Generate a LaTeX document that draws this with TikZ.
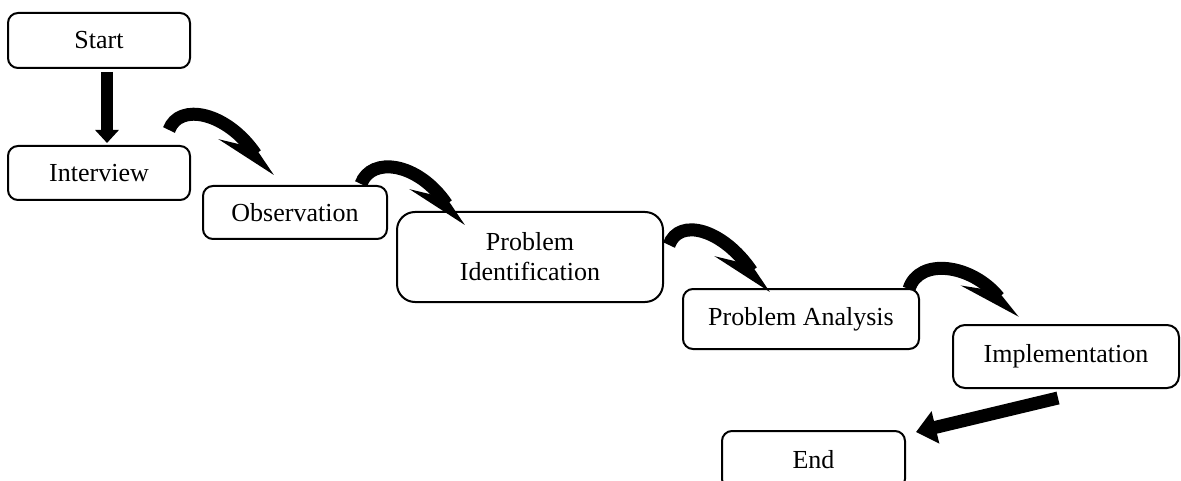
\documentclass[tikz,border=0pt]{standalone}
\usepackage{fontspec}
\setmainfont{Liberation Serif}
\usetikzlibrary{arrows.meta,calc}
\begin{document}
\begin{tikzpicture}[x=1pt,y=-1pt,
  box/.style={draw, line width=2pt, rounded corners=10pt, align=center,
    font=\fontsize{26}{30}\selectfont, inner sep=0pt},
  sarrow/.style={line width=12pt, -{Triangle[length=13pt,width=23pt]}},
  farrow/.style={line width=13pt, -{Triangle[length=20pt,width=32pt]}},
  carrow/.style={line width=13pt, -{Stealth[length=52pt,width=44pt,inset=24pt,right]}}]
\clip (0,0) rectangle (1181,481);
\node[box, minimum width=182pt, minimum height=55pt] (start) at (99,40.5) {Start};
\node[box, minimum width=182pt, minimum height=54pt] (interview) at (99,173) {Interview};
\node[box, minimum width=184pt, minimum height=53pt] (observation) at (295,212.5) {Observation};
\node[box, minimum width=266pt, minimum height=90pt, rounded corners=18pt] (pi) at (530,257) {Problem\\Identification};
\node[box, minimum width=236pt, minimum height=60pt] (pa) at (801,319) {Problem Analysis};
\node[box, minimum width=226pt, minimum height=63pt, rounded corners=12pt] (impl) at (1066,356.5) {Implementation};
\node[box, minimum width=183pt, minimum height=58pt] (end) at (813.5,460) {End};

\draw[sarrow] ($(start.south)+(8,3)$) -- ($(interview.north)+(8,-2)$);
\draw[carrow] ($(interview.north east)+(-22,-15)$) .. controls +(10,-28) and +(-44,-65) .. ($(observation.north west)+(69,-8)$);
\draw[carrow] ($(observation.north east)+(-27,-1)$) .. controls +(10,-28) and +(-44,-65) .. ($(pi.north west)+(66,16)$);
\draw[carrow] ($(pi.east)+(5,-12)$) .. controls +(10,-28) and +(-44,-65) .. ($(pa.north west)+(85,6)$);
\draw[carrow] ($(pa.north east)+(-11,1)$) .. controls +(10,-32) and +(-44,-55) .. ($(impl.north west)+(64,-5)$);
\draw[farrow] ($(impl.south)+(-8,9)$) -- ($(end.north east)+(10,2)$);
\end{tikzpicture}
\end{document}
